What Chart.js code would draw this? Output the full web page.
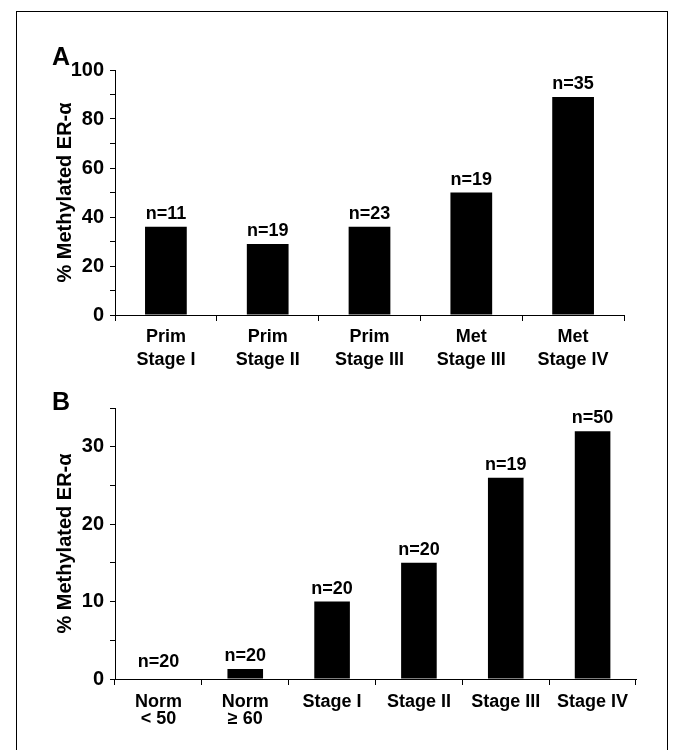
<!DOCTYPE html>
<html>
<head>
<meta charset="utf-8">
<script src="https://cdn.jsdelivr.net/npm/chart.js@4.4.1/dist/chart.umd.min.js"></script>
<style>
  html, body { margin: 0; padding: 0; background: #fff; }
  body { width: 674px; height: 750px; position: relative; overflow: hidden; font-family: "Liberation Sans", Arial, sans-serif; }
  #frame { position: absolute; left: 16px; top: 11px; width: 652px; height: 780px; border: 1px solid #000; box-sizing: border-box; }
  .panel { position: absolute; font-weight: bold; font-size: 25px; line-height: 25px; color: #000; }
  .wrap { position: absolute; left: 0; width: 674px; height: 375px; }
</style>
</head>
<body>
<div id="frame"></div>
<div class="wrap" style="top:0"><canvas id="chartA"></canvas></div>
<div class="wrap" style="top:375px"><canvas id="chartB"></canvas></div>
<div class="panel" style="left:52px; top:44px">A</div>
<div class="panel" style="left:52px; top:389px">B</div>
<script>
// ---- Panel A data ----
const categoriesA = [["Prim", "Stage I"], ["Prim", "Stage II"], ["Prim", "Stage III"], ["Met", "Stage III"], ["Met", "Stage IV"]];
const valuesA = [36, 29, 36, 50, 89];
const countsA = ["n=11", "n=19", "n=23", "n=19", "n=35"];
const yTicksA = { min: 0, max: 100, step: 10, labelEvery: 20 };

// ---- Panel B data ----
const categoriesB = [["Norm", "< 50"], ["Norm", "\u2265 60"], "Stage I", "Stage II", "Stage III", "Stage IV"];
const valuesB = [0, 1.3, 10, 15, 26, 32];
const countsB = ["n=20", "n=20", "n=20", "n=20", "n=19", "n=50"];
const yTicksB = { min: 0, max: 35, step: 5, labelEvery: 10 };

const yTitle = "% Methylated ER-\u03b1";
const FONT = "'Liberation Sans', Arial, sans-serif";

const countLabels = {
  id: 'countLabels',
  afterDatasetsDraw(chart, args, opts) {
    const ctx = chart.ctx;
    const meta = chart.getDatasetMeta(0);
    ctx.save();
    ctx.font = "bold 18px " + FONT;
    ctx.fillStyle = '#000';
    ctx.textAlign = 'center';
    ctx.textBaseline = 'alphabetic';
    meta.data.forEach((bar, i) => {
      const gap = chart.data.datasets[0].data[i] === 0 ? 12 : 8;
      ctx.fillText(opts.labels[i], bar.x, bar.y - gap);
    });
    ctx.restore();
  }
};

function makeChart(id, cats, vals, counts, yt, pad, xLineHeight, xPad) {
  return new Chart(document.getElementById(id), {
    type: 'bar',
    data: {
      labels: cats,
      datasets: [{ data: vals, backgroundColor: '#000', borderWidth: 0, categoryPercentage: 1, barPercentage: 0.41 }]
    },
    options: {
      responsive: true,
      maintainAspectRatio: false,
      animation: false,
      layout: { padding: pad },
      plugins: { legend: { display: false }, tooltip: { enabled: false }, countLabels: { labels: counts } },
      scales: {
        x: {
          grid: { display: true, drawOnChartArea: false, offset: true, color: '#000', tickLength: 6, lineWidth: 1 },
          border: { display: true, color: '#000', width: 1 },
          ticks: { color: '#000', font: { family: FONT, size: 18, weight: 'bold', lineHeight: xLineHeight }, maxRotation: 0, autoSkip: false, padding: xPad },
          afterFit: s => { s.height = 55; }
        },
        y: {
          min: yt.min, max: yt.max,
          grid: { display: true, drawOnChartArea: false, color: '#000', tickLength: 5, lineWidth: 1 },
          border: { display: true, color: '#000', width: 1 },
          ticks: { stepSize: yt.step, color: '#000', padding: 6, autoSkip: false,
                   font: { family: FONT, size: 20, weight: 'bold' },
                   callback: v => (v % yt.labelEvery === 0 ? String(v) : '') },
          title: { display: true, text: yTitle, color: '#000', font: { family: FONT, size: 20, weight: 'bold' }, padding: { top: 8, bottom: 0 } },
          afterFit: s => { s.width = 70; }
        }
      }
    },
    plugins: [countLabels]
  });
}

makeChart('chartA', categoriesA, valuesA, countsA, yTicksA, { left: 45, top: 70, right: 50, bottom: 5 }, 1.25, 5);
makeChart('chartB', categoriesB, valuesB, countsB, yTicksB, { left: 45, top: 33, right: 38, bottom: 16 }, 0.98, 8);
</script>
</body>
</html>
